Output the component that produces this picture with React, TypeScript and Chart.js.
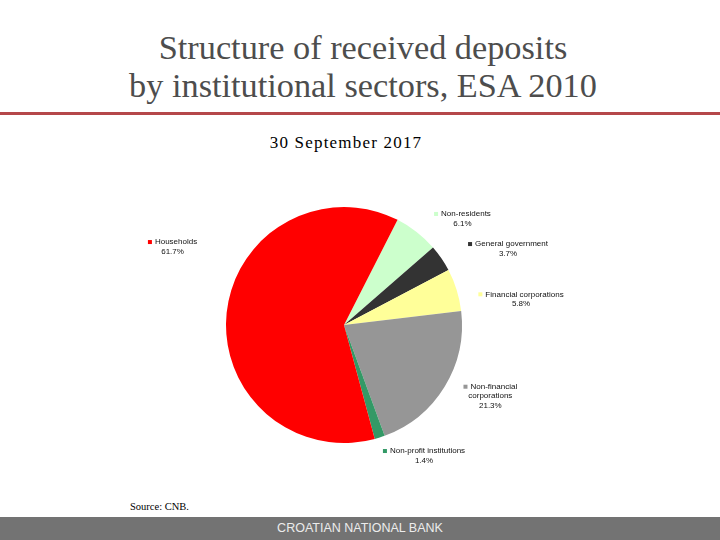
import React, { useEffect, useRef } from "react";
import { Chart, registerables } from "chart.js";

Chart.register(...registerables);

// ---- data ----
const categories = [
  "Non-residents",
  "General government",
  "Financial corporations",
  "Non-financial corporations",
  "Non-profit institutions",
  "Households",
];
const shares = [6.1, 3.7, 5.8, 21.3, 1.4, 61.7];
const sliceColors = ["#ccffcc", "#333333", "#ffff99", "#969696", "#339966", "#ff0000"];

const titleLines = ["Structure of received deposits", "by institutional sectors, ESA 2010"];
const subtitle = "30 September 2017";
const sourceNote = "Source: CNB.";
const footerText = "CROATIAN NATIONAL BANK";

// ---- label layout (relative to pie centre, in units of radius) ----
const LABEL_LAYOUT = [
  { dx: 1.004, dy: -0.941, wrap: false },
  { dx: 1.39, dy: -0.686, wrap: false },
  { dx: 1.5, dy: -0.26, wrap: false },
  { dx: 1.24, dy: 0.523, wrap: true },
  { dx: 0.678, dy: 1.068, wrap: false },
  { dx: -1.453, dy: -0.703, wrap: false },
];

const labelPlugin = {
  id: "sliceLabels",
  afterDraw(chart: any) {
    const meta = chart.getDatasetMeta(0);
    const first = meta.data[0];
    if (!first) return;
    const cx = first.x;
    const cy = first.y;
    const r = first.outerRadius;
    const ctx = chart.ctx;
    ctx.save();
    ctx.font = '8px "Liberation Sans", Arial, sans-serif';
    ctx.textBaseline = "middle";
    ctx.fillStyle = "#111111";
    const lh = 9.5;
    const marker = 4;
    const gap = 3;
    categories.forEach((name, i) => {
      const lay = LABEL_LAYOUT[i];
      const bx = cx + lay.dx * r;
      const by = cy + lay.dy * r;
      let lines: string[];
      if (lay.wrap) {
        const k = name.indexOf(" ");
        lines = [name.slice(0, k), name.slice(k + 1)];
      } else {
        lines = [name];
      }
      lines.push(shares[i].toFixed(1) + "%");
      const w0 = ctx.measureText(lines[0]).width;
      const blockW = marker + gap + w0;
      const left = bx - blockW / 2;
      ctx.fillStyle = sliceColors[i];
      ctx.fillRect(left, by - marker / 2, marker, marker);
      ctx.fillStyle = "#111111";
      ctx.textAlign = "left";
      ctx.fillText(lines[0], left + marker + gap, by);
      ctx.textAlign = "center";
      for (let j = 1; j < lines.length; j++) {
        ctx.fillText(lines[j], bx, by + j * lh);
      }
    });
    ctx.restore();
  },
};

export default function App() {
  const canvasRef = useRef<HTMLCanvasElement | null>(null);

  useEffect(() => {
    document.body.style.margin = "0";
    const canvas = canvasRef.current;
    if (!canvas) return;
    const chart = new Chart(canvas, {
      type: "pie",
      data: {
        labels: categories,
        datasets: [
          {
            data: shares,
            backgroundColor: sliceColors,
            borderWidth: 0,
          },
        ],
      },
      options: {
        animation: false,
        responsive: false,
        rotation: 27,
        layout: { padding: { left: 226, right: 258, top: 207, bottom: 97 } },
        plugins: {
          legend: { display: false },
          tooltip: { enabled: false },
        },
      },
      plugins: [labelPlugin],
    });
    return () => chart.destroy();
  }, []);

  return (
    <div
      style={{
        position: "relative",
        width: 720,
        height: 540,
        background: "#ffffff",
        overflow: "hidden",
      }}
    >
      <div
        style={{
          position: "absolute",
          top: 28,
          left: 3,
          width: 720,
          textAlign: "center",
          font: '34.3px/38px "Liberation Serif", "Times New Roman", serif',
          color: "#4d4d4d",
          whiteSpace: "nowrap",
        }}
      >
        <div>{titleLines[0]}</div>
        <div>{titleLines[1]}</div>
      </div>
      <div
        style={{
          position: "absolute",
          top: 112,
          left: 0,
          width: 720,
          height: 3,
          background: "#b5474a",
        }}
      />
      <div
        style={{
          position: "absolute",
          top: 133,
          left: 0,
          width: 692,
          textAlign: "center",
          font: '17px/20px "Liberation Serif", "Times New Roman", serif',
          letterSpacing: "1.2px",
          color: "#000000",
          whiteSpace: "nowrap",
        }}
      >
        {subtitle}
      </div>
      <div
        style={{
          position: "absolute",
          top: 501,
          left: 130,
          font: '10.5px/12px "Liberation Serif", "Times New Roman", serif',
          color: "#000000",
          whiteSpace: "nowrap",
        }}
      >
        {sourceNote}
      </div>
      <div
        style={{
          position: "absolute",
          top: 517,
          left: 0,
          width: 720,
          height: 23,
          background: "#737373",
          color: "#ececec",
          textAlign: "center",
          font: '12.5px/23px "Liberation Sans Narrow", "Liberation Sans", Arial, sans-serif',
          whiteSpace: "nowrap",
        }}
      >
        {footerText}
      </div>
      <canvas
        ref={canvasRef}
        width={720}
        height={540}
        style={{ position: "absolute", top: 0, left: 0, width: 720, height: 540 }}
      />
    </div>
  );
}
